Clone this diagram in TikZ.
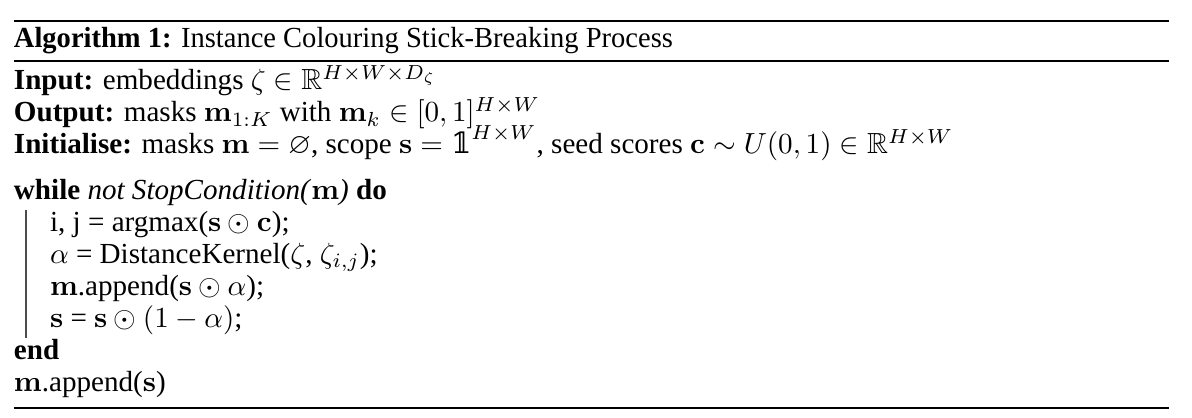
\documentclass[tikz,border=0pt]{standalone}
\usepackage{amsmath,amssymb}
\usepackage[no-math]{fontspec}
\setmainfont{Liberation Serif}
\newfontfamily\dsfamily{DejaVu Serif}
\newcommand{\onesmask}{\mathord{\mbox{\dsfamily\symbol{"1D7D9}}}}
\tikzset{
	algline/.style={anchor=base west, inner sep=0pt, outer sep=0pt},
	rulethick/.style={line width=0.8pt},
	rulethin/.style={line width=0.6pt},
}
\begin{document}
\begin{tikzpicture}[x=1pt, y=1pt, font=\fontsize{10}{11}\selectfont]
	\useasboundingbox (0, 0) rectangle (409.6, -143.6);
	% top rule and caption
	\draw[rulethick] (4.8, -7.2) -- (401.7, -7.2);
	\node[algline, xscale=0.98] (title) at (4.8, -16.4) {\textbf{Algorithm 1:} Instance Colouring Stick-Breaking Process};
	\draw[rulethin] (4.8, -21) -- (401.7, -21);
	% input, output, initialise
	\node[algline] (input) at (4.8, -30.9) {\textbf{Input:} embeddings $\zeta \in \mathbb{R}^{H \times W \times D_\zeta}$};
	\node[algline] (output) at (4.8, -41.9) {\textbf{Output:} masks $\mathbf{m}_{1:K}$ with $\mathbf{m}_k \in [0, 1]^{H \times W}$};
	\node[algline] (init) at (4.8, -52.9) {\textbf{Initialise:} masks $\mathbf{m} = \varnothing$, scope $\mathbf{s} = \onesmask^{H \times W}$, seed scores $\mathbf{c} \sim U(0, 1) \in \mathbb{R}^{H \times W}$};
	% the loop
	\node[algline] (while) at (4.8, -68.4) {\textbf{while} \textit{not StopCondition(}$\mathbf{m}$\textit{)} \textbf{do}};
	\node[algline] (argmax) at (17.2, -79.4) {i, j = argmax($\mathbf{s} \odot \mathbf{c}$);};
	\node[algline] (kernel) at (17.2, -90.4) {$\alpha$ = DistanceKernel($\zeta$, $\zeta_{i,j}$);};
	\node[algline] (append) at (17.2, -101.4) {$\mathbf{m}$.append($\mathbf{s} \odot \alpha$);};
	\node[algline] (scope) at (17.2, -112.4) {$\mathbf{s}$ = $\mathbf{s} \odot (1 - \alpha)$;};
	% loop bar
	\draw[black!70, line width=0.5pt] (8.9, -72) -- (8.9, -116);
	\node[algline] (endw) at (4.8, -123.4) {\textbf{end}};
	\node[algline] (final) at (4.8, -134.4) {$\mathbf{m}$.append($\mathbf{s}$)};
	% bottom rule
	\draw[rulethick] (4.8, -140.2) -- (401.7, -140.2);
\end{tikzpicture}
\end{document}
